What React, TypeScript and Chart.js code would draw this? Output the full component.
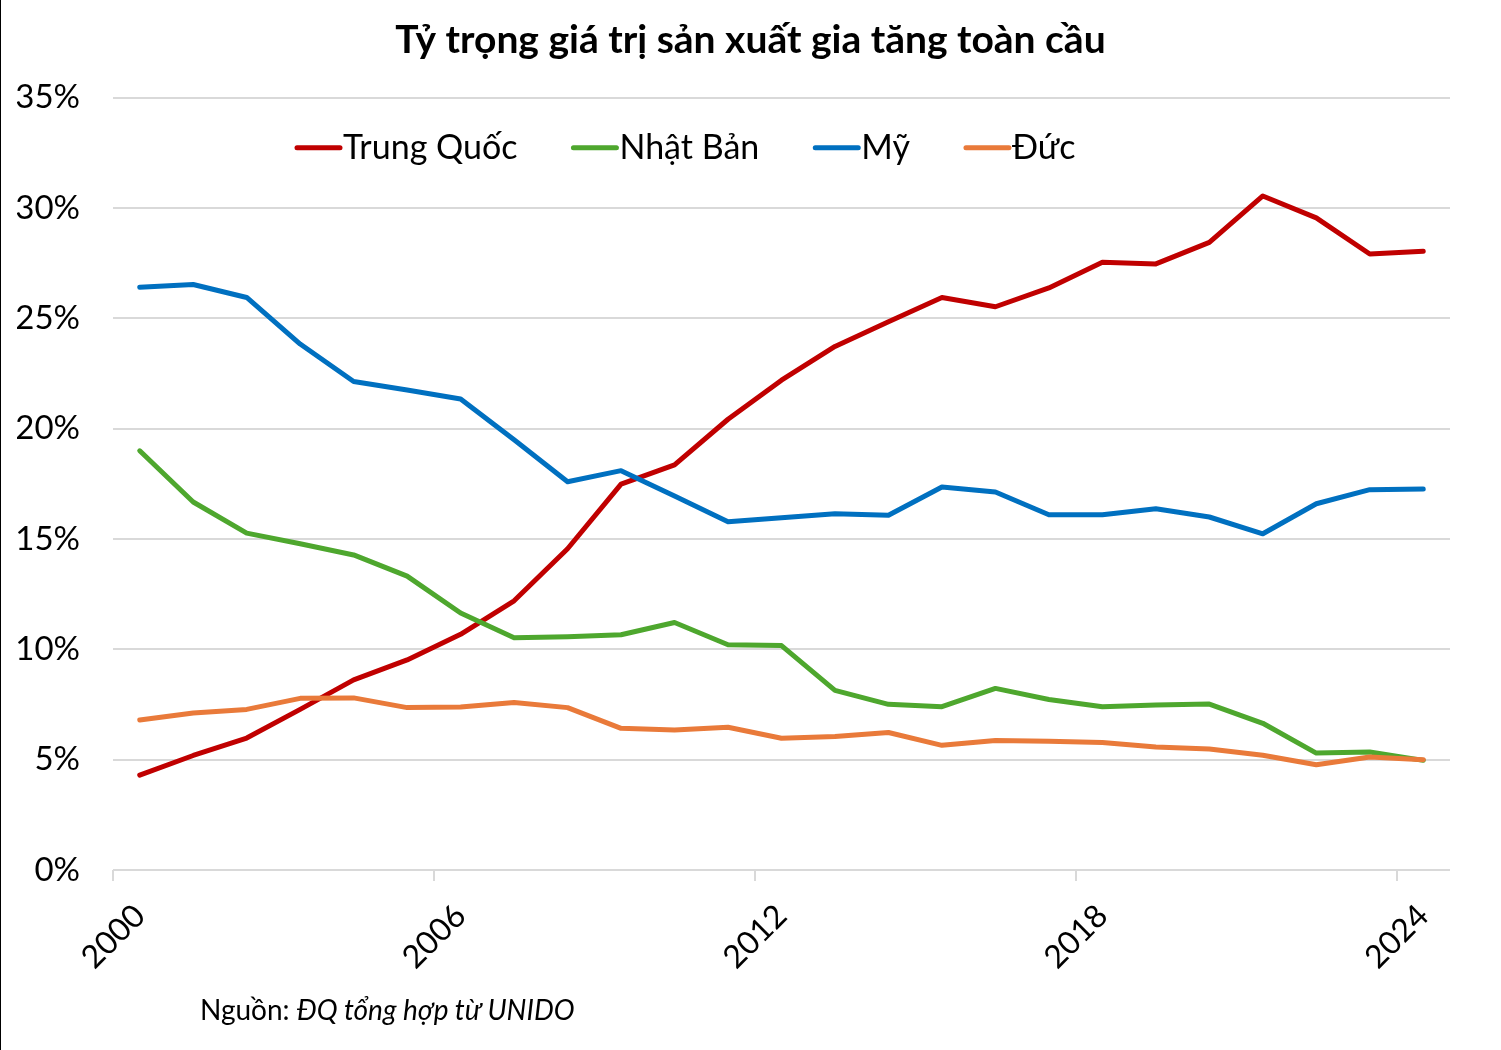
import React, { useEffect, useRef } from 'react';
import { Chart, registerables } from 'chart.js';

Chart.register(...registerables);

const years = [
  '2000', '2001', '2002', '2003', '2004', '2005', '2006', '2007', '2008', '2009',
  '2010', '2011', '2012', '2013', '2014', '2015', '2016', '2017', '2018', '2019',
  '2020', '2021', '2022', '2023', '2024',
];

// % share of global manufacturing value added
const trungQuoc = [
  4.3, 5.19, 5.98, 7.28, 8.62, 9.52, 10.68, 12.2, 14.56, 17.49,
  18.36, 20.43, 22.2, 23.73, 24.85, 25.95, 25.53, 26.38, 27.55, 27.47,
  28.45, 30.55, 29.56, 27.92, 28.05,
];
const nhatBan = [
  19.0, 16.68, 15.27, 14.79, 14.28, 13.32, 11.65, 10.53, 10.57, 10.66,
  11.22, 10.21, 10.17, 8.14, 7.51, 7.4, 8.23, 7.73, 7.4, 7.48,
  7.52, 6.65, 5.3, 5.35, 4.97,
];
const my = [
  26.41, 26.54, 25.95, 23.84, 22.14, 21.76, 21.35, 19.5, 17.6, 18.1,
  16.95, 15.78, 15.97, 16.15, 16.08, 17.36, 17.13, 16.1, 16.1, 16.37,
  16.0, 15.24, 16.6, 17.24, 17.27,
];
const duc = [
  6.8, 7.12, 7.28, 7.78, 7.8, 7.36, 7.39, 7.59, 7.36, 6.42,
  6.35, 6.47, 5.97, 6.05, 6.23, 5.65, 5.87, 5.83, 5.78, 5.57,
  5.48, 5.2, 4.77, 5.12, 5.0,
];

const yTicks = [0, 5, 10, 15, 20, 25, 30, 35];

const FONT = 'Lato, "Open Sans", sans-serif';

// legend drawn inside the plot area, the way the original has it
const inlineLegend = {
  id: 'inlineLegend',
  afterDraw(chart: any) {
    const { ctx, chartArea } = chart;
    ctx.save();
    ctx.font = `34px ${FONT}`;
    ctx.textBaseline = 'middle';
    ctx.textAlign = 'left';
    let x = chartArea.left + 184;
    const y = chartArea.top + 50;
    chart.data.datasets.forEach((ds: any) => {
      ctx.strokeStyle = ds.borderColor;
      ctx.lineWidth = 5;
      ctx.lineCap = 'round';
      ctx.beginPath();
      ctx.moveTo(x, y);
      ctx.lineTo(x + 43, y);
      ctx.stroke();
      ctx.fillStyle = '#000';
      ctx.fillText(ds.label, x + 46, y);
      x += 46 + ctx.measureText(ds.label).width + 56;
    });
    ctx.restore();
  },
};

const App: React.FC = () => {
  const chartRef = useRef<HTMLCanvasElement>(null);
  const chartInstance = useRef<Chart | null>(null);

  useEffect(() => {
    document.body.style.margin = '0';
    if (!chartRef.current) return;

    if (chartInstance.current) {
      chartInstance.current.destroy();
    }

    const ctx = chartRef.current.getContext('2d');
    if (!ctx) return;

    const line = (label: string, data: number[], color: string, order: number) => ({
      label,
      data,
      borderColor: color,
      backgroundColor: color,
      borderWidth: 5,
      pointRadius: 0,
      tension: 0,
      borderCapStyle: 'round' as const,
      borderJoinStyle: 'round' as const,
      order,
    });

    chartInstance.current = new Chart(ctx, {
      type: 'line',
      data: {
        labels: years,
        datasets: [
          line('Trung Quốc', trungQuoc, '#C00000', 4),
          line('Nhật Bản', nhatBan, '#4EA72E', 3),
          line('Mỹ', my, '#0070C0', 2),
          line('Đức', duc, '#E97A3A', 1),
        ],
      },
      options: {
        animation: false,
        responsive: true,
        maintainAspectRatio: false,
        layout: {
          // symmetric so the title sits on the page centre
          padding: { left: 17, right: 17, top: 0, bottom: 0 },
        },
        scales: {
          x: {
            type: 'category',
            offset: true,
            grid: {
              display: true,
              drawOnChartArea: false,
              drawTicks: true,
              tickLength: 11,
              offset: true,
              lineWidth: 2,
              color: (c: any) => (c.index % 6 === 0 ? '#d9d9d9' : 'rgba(0,0,0,0)'),
            },
            border: { display: false },
            ticks: {
              autoSkip: false,
              maxRotation: 45,
              minRotation: 45,
              padding: 16,
              color: '#000',
              font: { family: FONT, size: 32 },
              callback: (_v: any, i: number) => (i % 6 === 0 ? years[i] : ''),
            },
            afterFit: (scale: any) => {
              scale.height = 180;
            },
          },
          y: {
            min: yTicks[0],
            max: yTicks[yTicks.length - 1],
            border: { display: false },
            grid: {
              color: '#d9d9d9',
              lineWidth: 2,
              drawTicks: false,
            },
            afterBuildTicks: (scale: any) => {
              scale.ticks = yTicks.map((v) => ({ value: v }));
            },
            ticks: {
              padding: 33,
              color: '#000',
              font: { family: FONT, size: 33 },
              callback: (v: any) => `${v}%`,
            },
            afterFit: (scale: any) => {
              scale.width = 96;
            },
          },
          // empty right-hand gutter, keeps the plot where the original has it
          gutter: {
            type: 'linear',
            position: 'right',
            display: true,
            grid: { display: false },
            border: { display: false },
            ticks: { display: false },
            afterFit: (scale: any) => {
              scale.width = 34;
            },
          },
        },
        plugins: {
          legend: { display: false },
          tooltip: { enabled: false },
          title: {
            display: true,
            text: 'Tỷ trọng giá trị sản xuất gia tăng toàn cầu',
            color: '#000',
            font: { family: FONT, size: 39, weight: 'bold' },
            padding: { top: 17, bottom: 34 },
          },
        },
      },
      plugins: [inlineLegend],
    });

    return () => {
      if (chartInstance.current) {
        chartInstance.current.destroy();
        chartInstance.current = null;
      }
    };
  }, []);

  return (
    <div style={{ position: 'relative', width: 1501, height: 1050, background: '#fff' }}>
      <canvas ref={chartRef}></canvas>
      <div style={{ position: 'absolute', left: 0, top: 0, width: 1, height: 1050, background: '#000' }} />
      <div
        style={{
          position: 'absolute',
          left: 200,
          top: 992,
          fontFamily: FONT,
          fontSize: 28,
          color: '#000',
          whiteSpace: 'nowrap',
        }}
      >
        Nguồn: <i>ĐQ tổng hợp từ UNIDO</i>
      </div>
    </div>
  );
};

export default App;
